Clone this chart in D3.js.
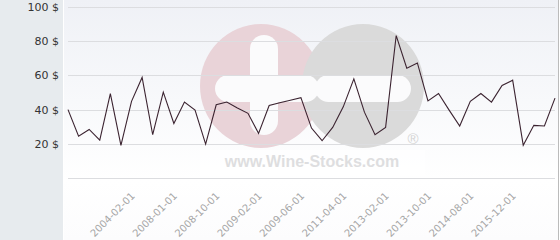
<!DOCTYPE html>
<html>
<head>
<meta charset="utf-8">
<script src="https://cdn.jsdelivr.net/npm/d3@7"></script>
<style>
html,body{margin:0;padding:0;background:#fff;}
svg{display:block;font-family:"DejaVu Sans",sans-serif;}
</style>
</head>
<body>
<svg id="chart" width="560" height="240"></svg>
<script>
// Price series (USD), one value per date point
const values = [40, 24.5, 28.4, 22.2, 49.4, 19.1, 44.8, 58.8, 25.3, 50.2,
  31.9, 44.4, 39.7, 19.8, 42.8, 44.4, 41, 37.8, 26.1, 42.4,
  44, 45.5, 47, 29.2, 21.8, 29.6, 41.6, 58, 38.5, 25.3,
  29.6, 83.3, 64.2, 67.3, 45.1, 49.4, 39.7, 30.4, 44.8, 49.4,
  44.4, 54.1, 57.2, 19.1, 30.8, 30.4, 46.7];
// Labelled dates and the point index where each label sits
const tickLabels = ["2004-02-01","2008-01-01","2008-10-01","2009-02-01","2009-06-01",
  "2011-04-01","2013-02-01","2013-10-01","2014-08-01","2015-12-01"];
const tickIndex = [6, 10, 14, 18, 22, 26, 30, 34, 38, 42];
const yTicks = [20, 40, 60, 80, 100];
const yGrid = [0, 20, 40, 60, 80, 100];

const svg = d3.select("#chart");
const W = 560, H = 240;
const plotL = 68, plotR = 555, plotT = 7, plotB = 178;

const x = d3.scaleLinear().domain([0, values.length - 1]).range([plotL, plotR]);
const y = d3.scaleLinear().domain([0, 100]).range([plotB, plotT]);

// background
const defs = svg.append("defs");
const grad = defs.append("linearGradient").attr("id","bg").attr("x1",0).attr("y1",0).attr("x2",0).attr("y2",1);
grad.append("stop").attr("offset","0%").attr("stop-color","#eff1f6");
grad.append("stop").attr("offset","75%").attr("stop-color","#ffffff");
grad.append("stop").attr("offset","100%").attr("stop-color","#fcfcfd");

svg.append("rect").attr("x",0).attr("y",0).attr("width",W).attr("height",H).attr("fill","#ffffff");
svg.append("rect").attr("x",0).attr("y",0).attr("width",63).attr("height",H).attr("fill","#e7ebee");
svg.append("rect").attr("x",64).attr("y",0).attr("width",494).attr("height",H).attr("fill","url(#bg)");
svg.append("line").attr("x1",558.5).attr("x2",558.5).attr("y1",0).attr("y2",H).attr("stroke","#bbbbbb");

// watermark
const wm = svg.append("g");
wm.append("rect").attr("x",200).attr("y",150).attr("width",225).attr("height",26).attr("fill","#ffffff").attr("opacity",0.6);
wm.append("ellipse").attr("cx",261).attr("cy",86).attr("rx",61).attr("ry",62).attr("fill","#e9d3d8");
wm.append("ellipse").attr("cx",363).attr("cy",86).attr("rx",61).attr("ry",62).attr("fill","#dadada");
wm.append("rect").attr("x",215).attr("y",75).attr("width",104).attr("height",27).attr("rx",13.5).attr("fill","#fbfbfc");
wm.append("rect").attr("x",250).attr("y",35).attr("width",28).attr("height",100).attr("rx",14).attr("fill","#fbfbfc");
wm.append("rect").attr("x",315).attr("y",75).attr("width",96).attr("height",27).attr("rx",13.5).attr("fill","#fbfbfc");
wm.append("text").attr("x",312).attr("y",167).attr("text-anchor","middle")
  .attr("font-family","Liberation Sans, Arial, sans-serif").attr("font-weight","bold").attr("font-size",16)
  .attr("fill","#dedee0").text("www.Wine-Stocks.com");
wm.append("text").attr("x",413).attr("y",144).attr("text-anchor","middle")
  .attr("font-family","Liberation Sans, Arial, sans-serif").attr("font-size",15)
  .attr("fill","#d4d4d4").text("®");

// gridlines
svg.append("g").selectAll("line").data(yGrid).join("line")
  .attr("x1",plotL).attr("x2",plotR)
  .attr("y1",d=>Math.round(y(d))+0.5).attr("y2",d=>Math.round(y(d))+0.5)
  .attr("stroke","#dcdde0").attr("stroke-width",1);

// y axis labels
const yAxis = d3.axisLeft(y).tickValues(yTicks).tickSize(0).tickPadding(0).tickFormat(d=>d+" $");
const gy = svg.append("g").attr("transform","translate(59,0)").call(yAxis);
gy.select(".domain").remove();
gy.selectAll("text").attr("font-size",11).attr("fill","#333333").attr("font-family","DejaVu Sans, sans-serif");

// x axis labels
const xAxis = d3.axisBottom(x).tickValues(tickIndex).tickSize(0).tickPadding(0)
  .tickFormat((d,i)=>tickLabels[i]);
const gx = svg.append("g").attr("transform","translate(0,194)").call(xAxis);
gx.select(".domain").remove();
gx.selectAll("text")
  .attr("font-size",10).attr("fill","#a6a6a6").attr("font-family","DejaVu Sans, sans-serif")
  .attr("text-anchor","end").attr("dy","0.35em").attr("dx",0)
  .attr("transform","translate(1,0) rotate(-45)");

// line
const line = d3.line().x((d,i)=>x(i)).y(d=>y(d));
svg.append("path").datum(values).attr("d",line)
  .attr("fill","none").attr("stroke","#3b2330").attr("stroke-width",1.1).attr("stroke-linejoin","miter");
</script>
</body>
</html>
